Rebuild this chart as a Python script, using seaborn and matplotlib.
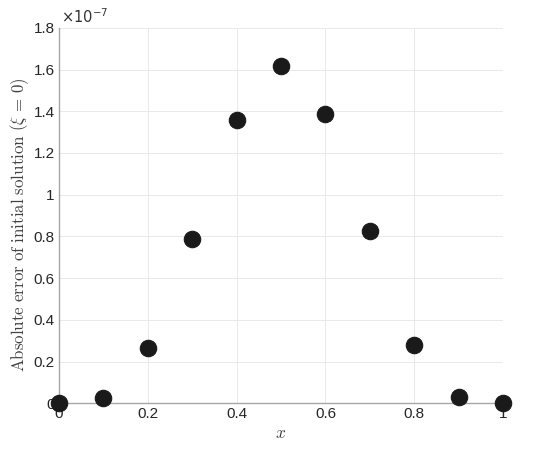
import matplotlib
matplotlib.use("Agg")
import matplotlib.pyplot as plt
import matplotlib.ticker as mticker
import seaborn as sns
import pandas as pd

x_vals = [0.0, 0.1, 0.2, 0.3, 0.4, 0.5, 0.6, 0.7, 0.8, 0.9, 1.0]
abs_err = [0.0, 0.027e-7, 0.263e-7, 0.787e-7, 1.358e-7, 1.617e-7,
           1.387e-7, 0.824e-7, 0.280e-7, 0.030e-7, 0.0]
x_ticks = [0, 0.2, 0.4, 0.6, 0.8, 1]
y_ticks = [0, 0.2e-7, 0.4e-7, 0.6e-7, 0.8e-7, 1.0e-7, 1.2e-7, 1.4e-7, 1.6e-7, 1.8e-7]

sns.set_style("white")
plt.rcParams["font.family"] = ["Liberation Sans", "DejaVu Sans"]
plt.rcParams["mathtext.fontset"] = "cm"

df = pd.DataFrame({"x": x_vals, "err": abs_err})

fig = plt.figure(figsize=(5.5, 4.5), dpi=100)
ax = fig.add_axes([0.107, 0.104, 0.808, 0.834])

sns.scatterplot(data=df, x="x", y="err", ax=ax, s=140, color="#1a1a1a",
                edgecolor="#1a1a1a", linewidth=0.8, zorder=5, clip_on=False)

ax.set_xlim(0, 1)
ax.set_ylim(0, 1.8e-7)
ax.set_xticks(x_ticks)
ax.set_yticks(y_ticks)
ax.xaxis.set_major_formatter(mticker.FuncFormatter(lambda v, p: f"{v:g}"))
ax.yaxis.set_major_formatter(mticker.FuncFormatter(
    lambda v, p: f"{v/1e-7:.1f}".rstrip("0").rstrip(".") if v != 0 else "0"))

ax.grid(True, color="#e5e5e5", linewidth=0.6)
ax.set_axisbelow(True)
for side in ["top", "right"]:
    ax.spines[side].set_visible(False)
for side in ["left", "bottom"]:
    ax.spines[side].set_color("#a6a6a6")
    ax.spines[side].set_linewidth(1.0)

ax.tick_params(axis="both", direction="in", length=3, width=0.6, color="#a6a6a6",
               labelsize=11, labelcolor="#262626", pad=3)

ax.set_xlabel(r"$x$", fontsize=12.5, color="#404040", labelpad=3)
ax.set_ylabel(r"$\mathrm{Absolute\ error\ of\ initial\ solution}\ (\mathbf{\xi}\,=\,0)$",
              fontsize=12.2, color="#404040")
ax.yaxis.set_label_coords(-0.063, 0.475)

ax.text(0.005, 1.006, r"$\times10^{-7}$", transform=ax.transAxes, fontsize=10.5,
        color="#333333", ha="left", va="bottom", math_fontfamily="dejavusans")

fig.savefig("out.png", dpi=100, facecolor="white")
